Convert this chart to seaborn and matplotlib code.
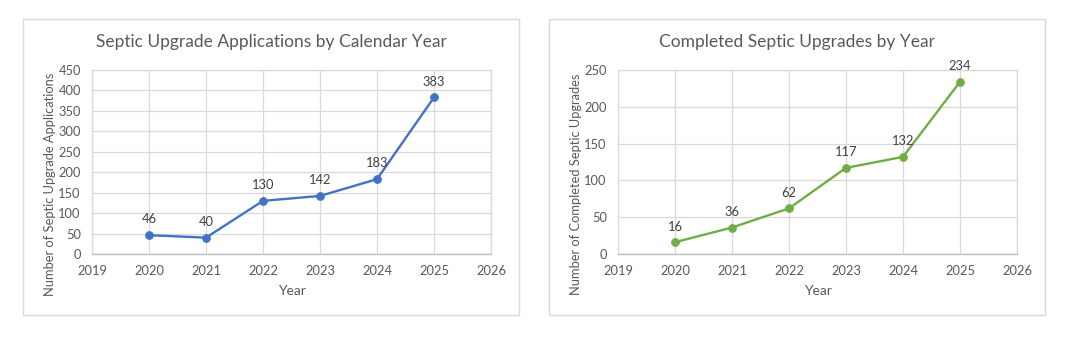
import matplotlib
matplotlib.use("Agg")
import matplotlib.pyplot as plt
import matplotlib.patches as mpatches
import seaborn as sns
import pandas as pd

years = [2020, 2021, 2022, 2023, 2024, 2025]
applications = [46, 40, 130, 142, 183, 383]
completed = [16, 36, 62, 117, 132, 234]

title_left = "Septic Upgrade Applications by Calendar Year"
title_right = "Completed Septic Upgrades by Year"
ylabel_left = "Number of Septic Upgrade Applications"
ylabel_right = "Number of Completed Septic Upgrades"

sns.set_theme(style="white")
plt.rcParams["font.family"] = ["Lato", "DejaVu Sans"]

W, H = 1068, 338
fig = plt.figure(figsize=(W / 100, H / 100), dpi=100)
fig.patch.set_facecolor("white")

text_col = "#595959"
grid_col = "#d9d9d9"

def px_axes(x0, y0, x1, y1):
    return fig.add_axes([x0 / W, 1 - y1 / H, (x1 - x0) / W, (y1 - y0) / H])

def panel(frame, ax_box, values, color, ymax, ystep, title, ylabel, title_x):
    fx0, fy0, fx1, fy1 = frame
    fig.add_artist(mpatches.Rectangle((fx0 / W, 1 - fy1 / H), (fx1 - fx0) / W, (fy1 - fy0) / H,
                                      transform=fig.transFigure, fill=False,
                                      edgecolor=grid_col, linewidth=1.0))
    ax = px_axes(*ax_box)
    df = pd.DataFrame({"Year": years, "Value": values})
    sns.lineplot(data=df, x="Year", y="Value", ax=ax, color=color, linewidth=1.7,
                 marker="o", markersize=5.5, markeredgecolor=color, zorder=3)
    ax.set_xlim(2019, 2026)
    ax.set_ylim(0, ymax)
    ax.set_xticks(range(2019, 2027))
    ax.set_yticks(range(0, ymax + 1, ystep))
    ax.grid(True, color=grid_col, linewidth=0.9)
    for s in ["left", "top", "right"]:
        ax.spines[s].set_color(grid_col)
        ax.spines[s].set_linewidth(0.9)
    ax.spines["bottom"].set_color("#bfbfbf")
    ax.spines["bottom"].set_linewidth(1.0)
    ax.tick_params(axis="x", labelsize=9.3, colors=text_col, length=0, pad=8)
    ax.tick_params(axis="y", labelsize=9.3, colors=text_col, length=0, pad=8)
    ax.set_xlabel("Year", fontsize=10, color=text_col, labelpad=6)
    ax.set_ylabel(ylabel, fontsize=9.3, color=text_col)
    ax.yaxis.set_label_coords(-0.09, 0.38)
    for x, v in zip(years, values):
        ax.annotate(str(v), (x, v), xytext=(0, 7), textcoords="offset points",
                    ha="center", va="bottom", fontsize=9.3, color="#404040")
    fig.text(title_x / W, 1 - 42 / H, title, ha="center", va="center",
             fontsize=12.5, color=text_col)
    return ax

panel((23, 19, 519, 315), (92, 70, 491, 254), applications, "#4472C4", 450, 50,
      title_left, ylabel_left, 271)
panel((549, 19, 1045, 315), (618, 70, 1017, 254), completed, "#70AD47", 250, 50,
      title_right, ylabel_right, 797)

fig.savefig("out.png", dpi=100, facecolor="white")
